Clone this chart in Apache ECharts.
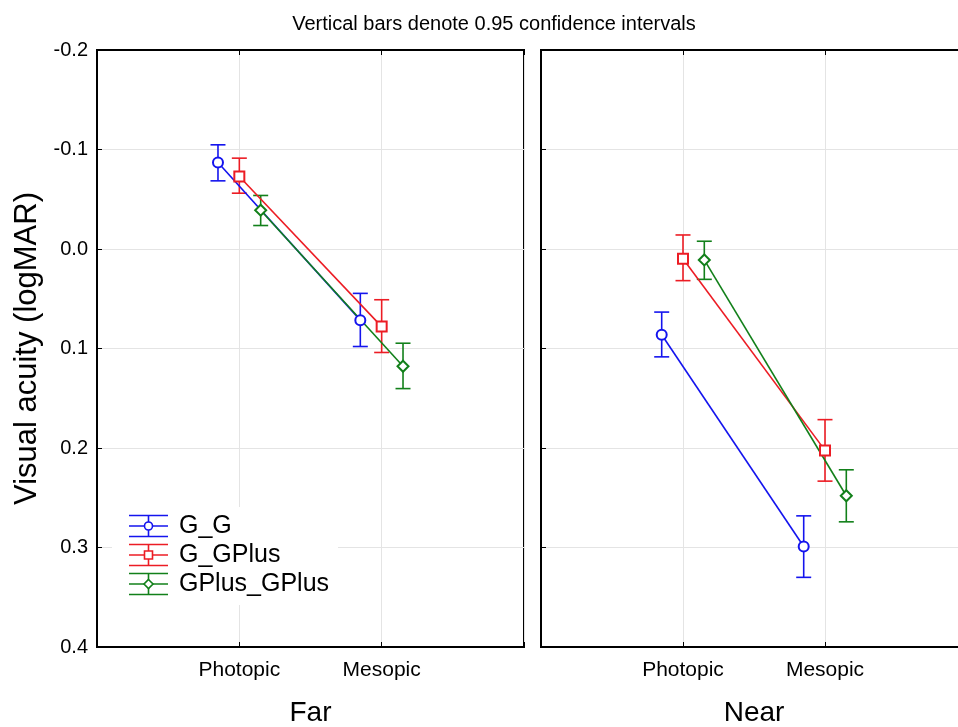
<!DOCTYPE html>
<html><head><meta charset="utf-8">
<script src="https://cdn.jsdelivr.net/npm/echarts@6/dist/echarts.min.js"></script>
<style>html,body{margin:0;padding:0;background:#fff}#c{width:958px;height:727px}</style>
</head><body><div id="c"></div>
<script>
// ---- data ----
const categories = ['Photopic', 'Mesopic'];
const groups = ['G_G', 'G_GPlus', 'GPlus_GPlus'];
const panels = ['Far', 'Near'];
const yTickLabels = ['-0.2', '-0.1', '0.0', '0.1', '0.2', '0.3', '0.4'];

// Far (Photopic, Mesopic)
const far_G_G_mean = [-0.087, 0.0715];
const far_G_G_lower = [-0.1047, 0.0446];
const far_G_G_upper = [-0.0685, 0.098];
const far_G_GPlus_mean = [-0.0729, 0.078];
const far_G_GPlus_lower = [-0.0913, 0.051];
const far_G_GPlus_upper = [-0.0561, 0.104];
const far_GPlus_GPlus_mean = [-0.039, 0.1178];
const far_GPlus_GPlus_lower = [-0.0538, 0.0947];
const far_GPlus_GPlus_upper = [-0.0236, 0.1403];

// Near (Photopic, Mesopic)
const near_G_G_mean = [0.0862, 0.299];
const near_G_G_lower = [0.0634, 0.2682];
const near_G_G_upper = [0.1084, 0.33];
const near_G_GPlus_mean = [0.0097, 0.2024];
const near_G_GPlus_lower = [-0.0141, 0.1715];
const near_G_GPlus_upper = [0.0318, 0.2333];
const near_GPlus_GPlus_mean = [0.011, 0.248];
const near_GPlus_GPlus_lower = [-0.0078, 0.2219];
const near_GPlus_GPlus_upper = [0.0305, 0.2742];

// ---- style ----
const colors = ['#1414ee', '#ec1c24', '#12801a'];
const symbols = ['emptyCircle', 'emptyRect', 'emptyDiamond'];
const symbolSizes = [10, 10, 11];
const dodge = [-0.15, 0, 0.15];
const FONT = '"Liberation Sans", Arial, sans-serif';

const tables = [
  [[far_G_G_mean, far_G_G_lower, far_G_G_upper],
   [far_G_GPlus_mean, far_G_GPlus_lower, far_G_GPlus_upper],
   [far_GPlus_GPlus_mean, far_GPlus_GPlus_lower, far_GPlus_GPlus_upper]],
  [[near_G_G_mean, near_G_G_lower, near_G_G_upper],
   [near_G_GPlus_mean, near_G_GPlus_lower, near_G_GPlus_upper],
   [near_GPlus_GPlus_mean, near_GPlus_GPlus_lower, near_GPlus_GPlus_upper]]
];

const chart = echarts.init(document.getElementById('c'), null, {renderer: 'canvas'});

const grids = [
  {left: 97, top: 50, width: 427, height: 597, show: true, borderColor: '#000', borderWidth: 2, containLabel: false, outerBoundsMode: 'none'},
  {left: 541, top: 50, width: 426, height: 597, show: true, borderColor: '#000', borderWidth: 2, containLabel: false, outerBoundsMode: 'none'}
];

const catLabel = v => (Math.abs(v - 1) < 1e-6 ? categories[0] : Math.abs(v - 2) < 1e-6 ? categories[1] : '');

const xAxes = [];
panels.forEach((name, i) => {
  xAxes.push({
    type: 'value', gridIndex: i, min: 0, max: 3, interval: 1, position: 'bottom',
    name: name, nameLocation: 'middle', nameGap: 52,
    nameTextStyle: {fontFamily: FONT, fontSize: 28, color: '#000'},
    axisLine: {show: true, onZero: false, lineStyle: {color: '#000', width: 2}},
    axisTick: {show: true, inside: true, length: 5, lineStyle: {color: '#000', width: 1}},
    axisLabel: {formatter: catLabel, fontFamily: FONT, fontSize: 21, color: '#000', margin: 13},
    splitLine: {show: true, lineStyle: {color: '#e4e4e4', width: 1}}
  });
});
panels.forEach((name, i) => {
  xAxes.push({
    type: 'value', gridIndex: i, min: 0, max: 3, interval: 1, position: 'top',
    axisLine: {show: true, onZero: false, lineStyle: {color: '#000', width: 2}},
    axisTick: {show: true, inside: true, length: 5, lineStyle: {color: '#000', width: 1}},
    axisLabel: {show: false}, splitLine: {show: false}
  });
});

const yAxes = panels.map((name, i) => ({
  type: 'value', gridIndex: i, min: -0.2, max: 0.4, interval: 0.1, inverse: true,
  name: i === 0 ? 'Visual acuity (logMAR)' : '', nameLocation: 'middle', nameGap: 54, nameRotate: 90,
  nameTextStyle: {fontFamily: FONT, fontSize: 31, color: '#000'},
  axisLine: {show: true, onZero: false, lineStyle: {color: '#000', width: 2}},
  axisTick: {show: true, inside: true, length: 5, lineStyle: {color: '#000', width: 1}},
  axisLabel: {
    show: i === 0, fontFamily: FONT, fontSize: 20, color: '#000', margin: 9,
    formatter: v => yTickLabels[Math.round((v + 0.2) * 10)] || ''
  },
  splitLine: {show: true, lineStyle: {color: '#e4e4e4', width: 1}}
}));

const series = [];
tables.forEach((panel, p) => {
  panel.forEach((arrs, g) => {
    const [mean, lo, hi] = arrs;
    series.push({
      type: 'custom', name: groups[g] + '_err_' + p, xAxisIndex: p, yAxisIndex: p, z: 3,
      data: categories.map((c, k) => [k + 1 + dodge[g], lo[k], hi[k]]),
      encode: {x: 0, y: [1, 2]},
      renderItem: (params, api) => {
        const x = api.value(0);
        const a = api.coord([x, api.value(1)]);
        const b = api.coord([x, api.value(2)]);
        const w = 7.5;
        const st = {stroke: colors[g], lineWidth: 1.6, fill: null};
        return {type: 'group', children: [
          {type: 'line', shape: {x1: a[0], y1: a[1], x2: b[0], y2: b[1]}, style: st},
          {type: 'line', shape: {x1: a[0] - w, y1: a[1], x2: a[0] + w, y2: a[1]}, style: st},
          {type: 'line', shape: {x1: b[0] - w, y1: b[1], x2: b[0] + w, y2: b[1]}, style: st}
        ]};
      },
      silent: true
    });
    series.push({
      type: 'line', name: groups[g], xAxisIndex: p, yAxisIndex: p, z: 4,
      data: categories.map((c, k) => [k + 1 + dodge[g], mean[k]]),
      symbol: symbols[g], symbolSize: symbolSizes[g], showSymbol: true,
      lineStyle: {color: colors[g], width: 1.6},
      itemStyle: {color: colors[g], borderWidth: 1.6},
      silent: true
    });
  });
});

// legend drawn as graphics
const legendGraphics = [{
  type: 'rect', left: 112, top: 507, z: 50,
  shape: {width: 226, height: 98}, style: {fill: '#fff', stroke: null}
}];
const rowY = [526, 555, 584];
groups.forEach((name, g) => {
  const cy = rowY[g], x1 = 129, x2 = 168, cx = 148.5, h = 10.5;
  const st = {stroke: colors[g], lineWidth: 1.6, fill: null};
  legendGraphics.push({type: 'line', z: 51, shape: {x1, y1: cy - h, x2, y2: cy - h}, style: st});
  legendGraphics.push({type: 'line', z: 51, shape: {x1, y1: cy, x2, y2: cy}, style: st});
  legendGraphics.push({type: 'line', z: 51, shape: {x1, y1: cy + h, x2, y2: cy + h}, style: st});
  legendGraphics.push({type: 'line', z: 51, shape: {x1: cx, y1: cy - h, x2: cx, y2: cy + h}, style: st});
  const mst = {stroke: colors[g], lineWidth: 1.6, fill: '#fff'};
  if (g === 0) legendGraphics.push({type: 'circle', z: 52, shape: {cx, cy, r: 4}, style: mst});
  if (g === 1) legendGraphics.push({type: 'rect', z: 52, shape: {x: cx - 4, y: cy - 4, width: 8, height: 8}, style: mst});
  if (g === 2) legendGraphics.push({type: 'polygon', z: 52, shape: {points: [[cx, cy - 4.5], [cx + 4.5, cy], [cx, cy + 4.5], [cx - 4.5, cy]]}, style: mst});
  legendGraphics.push({type: 'text', z: 52, x: 179, y: cy, style: {text: name, fill: '#000', font: '25px ' + FONT, textVerticalAlign: 'middle', verticalAlign: 'middle'}});
});

chart.setOption({
  animation: false,
  backgroundColor: '#fff',
  title: {text: 'Vertical bars denote 0.95 confidence intervals', left: 489, textAlign: 'center', top: 9,
    textStyle: {fontFamily: FONT, fontSize: 20, fontWeight: 'normal', color: '#000'}},
  grid: grids,
  xAxis: xAxes,
  yAxis: yAxes,
  series: series,
  graphic: legendGraphics
});
</script>
</body></html>
